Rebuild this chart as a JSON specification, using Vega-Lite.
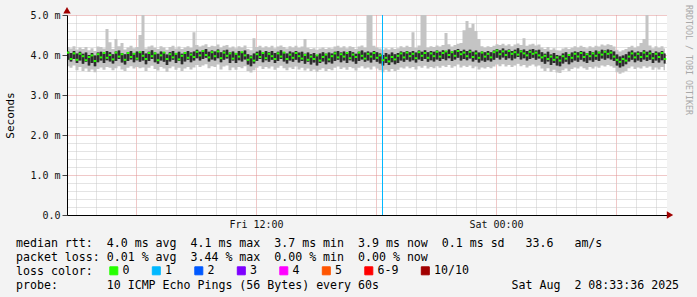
{
"$schema":"https://vega.github.io/schema/vega-lite/v6.json",
"width":600,"height":200,
"autosize":{"type":"none"},
"padding":{"left":67,"top":15,"right":30,"bottom":82},
"background":"#f3f3f3",
"config":{"view":{"fill":"white","stroke":null},"font":"DejaVu Sans Mono"},
"title":{"text":["median rtt:\u00a0\u00a04.0 ms avg\u00a0\u00a04.1 ms max\u00a0\u00a03.7 ms min\u00a0\u00a03.9 ms now\u00a0\u00a00.1 ms sd\u00a0\u00a0\u00a033.6\u00a0\u00a0\u00a0am/s","packet loss: 0.01 % avg\u00a0\u00a03.44 % max\u00a0\u00a00.00 % min\u00a0\u00a00.00 % now","loss color:","probe:\u00a0\u00a0\u00a0\u00a0\u00a0\u00a0\u00a010 ICMP Echo Pings (56 Bytes) every 60s\u00a0\u00a0\u00a0\u00a0\u00a0\u00a0\u00a0\u00a0\u00a0\u00a0\u00a0\u00a0\u00a0\u00a0\u00a0\u00a0\u00a0\u00a0\u00a0Sat Aug\u00a0\u00a02 08:33:36 2025"],"orient":"bottom","anchor":"start","frame":"group","font":"DejaVu Sans Mono","fontSize":11.6,"fontWeight":"normal","color":"#000","lineHeight":14,"offset":5,"dx":-51,"dy":-44},
"datasets":{
"d":[
{"t":2.6,"m":4.06,"a":3.88,"b":4.09,"l":3.72,"h":4.2},
{"t":2.75,"m":3.9,"a":3.84,"b":4.05,"l":3.68,"h":4.16},
{"t":2.9,"m":4.04,"a":3.9,"b":4.1,"l":3.74,"h":4.22},
{"t":3.05,"m":3.88,"a":3.8,"b":4.04,"l":3.62,"h":4.14},
{"t":3.2,"m":4.03,"a":3.86,"b":4.08,"l":3.7,"h":4.19},
{"t":3.35,"m":3.97,"a":3.78,"b":4.03,"l":3.6,"h":4.15},
{"t":3.5,"m":3.87,"a":3.83,"b":4.06,"l":3.66,"h":4.2},
{"t":3.65,"m":3.95,"a":3.74,"b":4.0,"l":3.58,"h":4.12},
{"t":3.8,"m":3.99,"a":3.8,"b":4.05,"l":3.64,"h":4.17},
{"t":3.95,"m":3.85,"a":3.72,"b":3.99,"l":3.57,"h":4.1},
{"t":4.1,"m":4.02,"a":3.82,"b":4.06,"l":3.65,"h":4.21},
{"t":4.25,"m":3.94,"a":3.86,"b":4.08,"l":3.69,"h":4.2},
{"t":4.4,"m":4.05,"a":3.8,"b":4.04,"l":3.63,"h":4.16},
{"t":4.55,"m":3.93,"a":3.87,"b":4.1,"l":3.7,"h":4.65},
{"t":4.7,"m":4.0,"a":3.84,"b":4.07,"l":3.68,"h":4.32},
{"t":4.85,"m":3.89,"a":3.79,"b":4.02,"l":3.62,"h":4.15},
{"t":5.0,"m":4.06,"a":3.85,"b":4.09,"l":3.67,"h":4.4},
{"t":5.15,"m":3.96,"a":3.9,"b":4.11,"l":3.72,"h":4.22},
{"t":5.3,"m":4.02,"a":3.81,"b":4.05,"l":3.64,"h":4.3},
{"t":5.45,"m":3.88,"a":3.76,"b":4.02,"l":3.6,"h":4.14},
{"t":5.6,"m":4.05,"a":3.85,"b":4.07,"l":3.68,"h":4.19},
{"t":5.75,"m":3.95,"a":3.89,"b":4.1,"l":3.72,"h":4.23},
{"t":5.9,"m":4.03,"a":3.82,"b":4.05,"l":3.66,"h":4.17},
{"t":6.05,"m":3.91,"a":3.87,"b":4.09,"l":3.7,"h":4.2},
{"t":6.2,"m":4.07,"a":3.83,"b":4.06,"l":3.67,"h":4.5},
{"t":6.35,"m":3.98,"a":3.86,"b":4.1,"l":3.69,"h":5.0},
{"t":6.5,"m":3.9,"a":3.77,"b":4.04,"l":3.6,"h":4.16},
{"t":6.65,"m":4.05,"a":3.85,"b":4.08,"l":3.68,"h":4.21},
{"t":6.8,"m":3.97,"a":3.9,"b":4.12,"l":3.73,"h":4.24},
{"t":6.95,"m":4.04,"a":3.82,"b":4.06,"l":3.65,"h":4.18},
{"t":7.1,"m":3.87,"a":3.78,"b":4.03,"l":3.61,"h":4.15},
{"t":7.25,"m":3.99,"a":3.86,"b":4.09,"l":3.7,"h":4.22},
{"t":7.4,"m":4.06,"a":3.83,"b":4.07,"l":3.66,"h":4.19},
{"t":7.55,"m":3.9,"a":3.75,"b":4.01,"l":3.58,"h":4.13},
{"t":7.7,"m":4.02,"a":3.84,"b":4.07,"l":3.67,"h":4.2},
{"t":7.85,"m":3.94,"a":3.88,"b":4.1,"l":3.71,"h":4.23},
{"t":8.0,"m":4.03,"a":3.8,"b":4.05,"l":3.63,"h":4.16},
{"t":8.15,"m":3.89,"a":3.85,"b":4.08,"l":3.68,"h":4.21},
{"t":8.3,"m":3.98,"a":3.77,"b":4.03,"l":3.6,"h":4.15},
{"t":8.45,"m":4.05,"a":3.84,"b":4.07,"l":3.66,"h":4.19},
{"t":8.6,"m":3.93,"a":3.88,"b":4.1,"l":3.7,"h":4.22},
{"t":8.75,"m":4.01,"a":3.82,"b":4.06,"l":3.64,"h":4.18},
{"t":8.9,"m":3.95,"a":3.86,"b":4.09,"l":3.69,"h":4.57},
{"t":9.05,"m":4.08,"a":3.92,"b":4.13,"l":3.75,"h":4.25},
{"t":9.2,"m":3.99,"a":3.86,"b":4.08,"l":3.7,"h":4.21},
{"t":9.35,"m":4.1,"a":3.9,"b":4.12,"l":3.74,"h":4.24},
{"t":9.5,"m":4.0,"a":3.93,"b":4.15,"l":3.77,"h":4.27},
{"t":9.65,"m":3.94,"a":3.84,"b":4.08,"l":3.67,"h":4.2},
{"t":9.8,"m":4.07,"a":3.89,"b":4.11,"l":3.72,"h":4.23},
{"t":9.95,"m":3.97,"a":3.86,"b":4.09,"l":3.7,"h":4.22},
{"t":10.1,"m":4.09,"a":3.92,"b":4.14,"l":3.76,"h":4.26},
{"t":10.25,"m":3.92,"a":3.82,"b":4.07,"l":3.64,"h":4.19},
{"t":10.4,"m":4.06,"a":3.88,"b":4.11,"l":3.71,"h":4.23},
{"t":10.55,"m":3.98,"a":3.91,"b":4.13,"l":3.74,"h":4.25},
{"t":10.7,"m":4.04,"a":3.8,"b":4.06,"l":3.62,"h":4.18},
{"t":10.85,"m":3.91,"a":3.86,"b":4.09,"l":3.69,"h":4.21},
{"t":11.0,"m":4.03,"a":3.8,"b":4.05,"l":3.63,"h":4.17},
{"t":11.15,"m":3.96,"a":3.87,"b":4.1,"l":3.7,"h":4.22},
{"t":11.3,"m":4.07,"a":3.84,"b":4.07,"l":3.67,"h":4.19},
{"t":11.45,"m":3.99,"a":3.89,"b":4.11,"l":3.72,"h":4.24},
{"t":11.6,"m":3.88,"a":3.76,"b":4.02,"l":3.6,"h":4.15},
{"t":11.75,"m":3.94,"a":3.72,"b":3.99,"l":3.56,"h":4.12},
{"t":11.9,"m":3.86,"a":3.79,"b":4.04,"l":3.62,"h":4.42},
{"t":12.05,"m":4.02,"a":3.85,"b":4.08,"l":3.68,"h":4.2},
{"t":12.2,"m":3.95,"a":3.9,"b":4.11,"l":3.72,"h":4.23},
{"t":12.35,"m":4.05,"a":3.82,"b":4.06,"l":3.65,"h":4.18},
{"t":12.5,"m":3.92,"a":3.87,"b":4.1,"l":3.7,"h":4.22},
{"t":12.65,"m":4.03,"a":3.83,"b":4.07,"l":3.66,"h":4.19},
{"t":12.8,"m":3.97,"a":3.88,"b":4.1,"l":3.71,"h":4.23},
{"t":12.95,"m":3.9,"a":3.8,"b":4.05,"l":3.63,"h":4.17},
{"t":13.1,"m":4.04,"a":3.85,"b":4.08,"l":3.68,"h":4.21},
{"t":13.25,"m":3.96,"a":3.9,"b":4.12,"l":3.73,"h":4.24},
{"t":13.4,"m":4.06,"a":3.84,"b":4.07,"l":3.67,"h":4.2},
{"t":13.55,"m":3.9,"a":3.79,"b":4.04,"l":3.62,"h":4.16},
{"t":13.7,"m":4.01,"a":3.86,"b":4.09,"l":3.69,"h":4.22},
{"t":13.85,"m":3.93,"a":3.83,"b":4.06,"l":3.65,"h":4.19},
{"t":14.0,"m":4.05,"a":3.88,"b":4.1,"l":3.71,"h":4.23},
{"t":14.15,"m":3.97,"a":3.81,"b":4.06,"l":3.64,"h":4.18},
{"t":14.3,"m":3.91,"a":3.85,"b":4.08,"l":3.68,"h":4.21},
{"t":14.45,"m":4.0,"a":3.78,"b":4.03,"l":3.61,"h":4.4},
{"t":14.6,"m":3.88,"a":3.83,"b":4.06,"l":3.66,"h":4.18},
{"t":14.75,"m":3.96,"a":3.76,"b":4.02,"l":3.6,"h":4.15},
{"t":14.9,"m":3.9,"a":3.81,"b":4.05,"l":3.64,"h":4.17},
{"t":15.05,"m":3.99,"a":3.74,"b":4.0,"l":3.58,"h":4.13},
{"t":15.2,"m":3.86,"a":3.8,"b":4.04,"l":3.63,"h":4.16},
{"t":15.35,"m":3.95,"a":3.84,"b":4.07,"l":3.67,"h":4.19},
{"t":15.5,"m":4.01,"a":3.77,"b":4.03,"l":3.6,"h":4.15},
{"t":15.65,"m":3.89,"a":3.82,"b":4.06,"l":3.65,"h":4.18},
{"t":15.8,"m":3.97,"a":3.79,"b":4.04,"l":3.62,"h":4.16},
{"t":15.95,"m":4.04,"a":3.85,"b":4.08,"l":3.68,"h":4.21},
{"t":16.1,"m":3.94,"a":3.88,"b":4.1,"l":3.71,"h":4.23},
{"t":16.25,"m":4.02,"a":3.82,"b":4.06,"l":3.65,"h":4.18},
{"t":16.4,"m":3.96,"a":3.86,"b":4.09,"l":3.69,"h":4.22},
{"t":16.55,"m":4.05,"a":3.8,"b":4.05,"l":3.63,"h":4.17},
{"t":16.7,"m":3.92,"a":3.87,"b":4.1,"l":3.7,"h":4.22},
{"t":16.85,"m":4.01,"a":3.84,"b":4.07,"l":3.67,"h":4.2},
{"t":17.0,"m":3.95,"a":3.78,"b":4.03,"l":3.61,"h":4.15},
{"t":17.15,"m":4.06,"a":3.85,"b":4.08,"l":3.68,"h":4.21},
{"t":17.3,"m":3.98,"a":3.89,"b":4.11,"l":3.72,"h":4.24},
{"t":17.45,"m":3.91,"a":3.83,"b":4.06,"l":3.66,"h":4.19},
{"t":17.6,"m":4.03,"a":3.86,"b":4.09,"l":3.69,"h":5.0},
{"t":17.75,"m":3.96,"a":3.81,"b":4.06,"l":3.64,"h":5.0},
{"t":17.9,"m":4.05,"a":3.88,"b":4.1,"l":3.71,"h":4.23},
{"t":18.05,"m":3.93,"a":3.83,"b":4.07,"l":3.66,"h":4.19},
{"t":18.2,"m":3.99,"a":3.79,"b":4.04,"l":3.62,"h":4.16},
{"t":18.35,"m":3.87,"a":3.74,"b":4.0,"l":3.57,"h":4.13},
{"t":18.5,"m":3.93,"a":3.8,"b":4.05,"l":3.63,"h":4.17},
{"t":18.65,"m":3.84,"a":3.75,"b":4.01,"l":3.58,"h":4.14},
{"t":18.8,"m":3.95,"a":3.82,"b":4.06,"l":3.65,"h":4.18},
{"t":18.95,"m":3.89,"a":3.77,"b":4.02,"l":3.6,"h":4.15},
{"t":19.1,"m":3.98,"a":3.8,"b":4.05,"l":3.63,"h":4.17},
{"t":19.25,"m":4.04,"a":3.86,"b":4.09,"l":3.69,"h":4.22},
{"t":19.4,"m":3.94,"a":3.83,"b":4.07,"l":3.66,"h":4.19},
{"t":19.55,"m":4.06,"a":3.88,"b":4.1,"l":3.71,"h":4.23},
{"t":19.7,"m":3.97,"a":3.84,"b":4.07,"l":3.67,"h":4.2},
{"t":19.85,"m":4.03,"a":3.87,"b":4.1,"l":3.7,"h":4.57},
{"t":20.0,"m":3.92,"a":3.81,"b":4.06,"l":3.64,"h":4.18},
{"t":20.15,"m":4.07,"a":3.89,"b":4.11,"l":3.72,"h":4.24},
{"t":20.3,"m":3.98,"a":3.85,"b":4.08,"l":3.68,"h":5.0},
{"t":20.45,"m":4.05,"a":3.9,"b":4.12,"l":3.73,"h":5.0},
{"t":20.6,"m":3.93,"a":3.83,"b":4.07,"l":3.66,"h":4.19},
{"t":20.75,"m":4.04,"a":3.87,"b":4.1,"l":3.7,"h":4.22},
{"t":20.9,"m":3.97,"a":3.84,"b":4.08,"l":3.67,"h":4.2},
{"t":21.05,"m":4.08,"a":3.89,"b":4.11,"l":3.72,"h":4.24},
{"t":21.2,"m":3.96,"a":3.85,"b":4.08,"l":3.68,"h":4.21},
{"t":21.35,"m":4.05,"a":3.9,"b":4.12,"l":3.73,"h":4.25},
{"t":21.5,"m":4.09,"a":3.87,"b":4.1,"l":3.7,"h":4.55},
{"t":21.65,"m":4.0,"a":3.92,"b":4.14,"l":3.75,"h":4.27},
{"t":21.8,"m":4.07,"a":3.85,"b":4.09,"l":3.68,"h":4.21},
{"t":21.95,"m":3.98,"a":3.89,"b":4.12,"l":3.72,"h":4.25},
{"t":22.1,"m":4.1,"a":3.93,"b":4.15,"l":3.76,"h":4.28},
{"t":22.25,"m":4.02,"a":3.86,"b":4.1,"l":3.69,"h":4.3},
{"t":22.4,"m":4.06,"a":3.9,"b":4.13,"l":3.73,"h":4.62},
{"t":22.55,"m":3.97,"a":3.87,"b":4.1,"l":3.7,"h":4.85},
{"t":22.7,"m":4.08,"a":3.91,"b":4.13,"l":3.74,"h":4.68},
{"t":22.85,"m":3.95,"a":3.84,"b":4.08,"l":3.67,"h":4.78},
{"t":23.0,"m":4.04,"a":3.88,"b":4.11,"l":3.71,"h":4.6},
{"t":23.15,"m":3.93,"a":3.81,"b":4.06,"l":3.64,"h":4.4},
{"t":23.3,"m":4.06,"a":3.86,"b":4.09,"l":3.69,"h":4.22},
{"t":23.45,"m":3.96,"a":3.83,"b":4.07,"l":3.66,"h":4.19},
{"t":23.6,"m":4.03,"a":3.87,"b":4.1,"l":3.7,"h":4.22},
{"t":23.75,"m":3.94,"a":3.84,"b":4.07,"l":3.67,"h":4.2},
{"t":23.9,"m":4.07,"a":3.88,"b":4.11,"l":3.71,"h":4.23},
{"t":24.05,"m":4.11,"a":3.93,"b":4.15,"l":3.76,"h":4.27},
{"t":24.2,"m":4.02,"a":3.89,"b":4.12,"l":3.72,"h":4.25},
{"t":24.35,"m":4.09,"a":3.94,"b":4.16,"l":3.77,"h":4.28},
{"t":24.5,"m":4.0,"a":3.88,"b":4.11,"l":3.71,"h":4.24},
{"t":24.65,"m":4.1,"a":3.92,"b":4.14,"l":3.75,"h":4.27},
{"t":24.8,"m":4.03,"a":3.87,"b":4.1,"l":3.7,"h":4.22},
{"t":24.95,"m":4.07,"a":3.91,"b":4.13,"l":3.74,"h":4.26},
{"t":25.1,"m":4.01,"a":3.95,"b":4.17,"l":3.78,"h":4.29},
{"t":25.25,"m":4.09,"a":3.89,"b":4.12,"l":3.72,"h":4.25},
{"t":25.4,"m":4.04,"a":3.92,"b":4.14,"l":3.75,"h":4.42},
{"t":25.55,"m":3.99,"a":3.86,"b":4.1,"l":3.69,"h":4.23},
{"t":25.7,"m":4.08,"a":3.9,"b":4.13,"l":3.73,"h":4.26},
{"t":25.85,"m":4.03,"a":3.93,"b":4.15,"l":3.76,"h":4.28},
{"t":26.0,"m":4.06,"a":3.88,"b":4.11,"l":3.71,"h":4.24},
{"t":26.15,"m":3.99,"a":3.91,"b":4.13,"l":3.74,"h":4.26},
{"t":26.3,"m":3.94,"a":3.83,"b":4.07,"l":3.66,"h":4.19},
{"t":26.45,"m":3.98,"a":3.78,"b":4.03,"l":3.6,"h":4.15},
{"t":26.6,"m":3.9,"a":3.84,"b":4.08,"l":3.67,"h":4.2},
{"t":26.75,"m":3.96,"a":3.75,"b":4.01,"l":3.58,"h":4.13},
{"t":26.9,"m":3.88,"a":3.8,"b":4.05,"l":3.63,"h":4.17},
{"t":27.05,"m":3.94,"a":3.74,"b":4.0,"l":3.56,"h":4.12},
{"t":27.2,"m":3.86,"a":3.72,"b":3.98,"l":3.55,"h":4.11},
{"t":27.35,"m":3.97,"a":3.79,"b":4.04,"l":3.62,"h":4.16},
{"t":27.5,"m":3.91,"a":3.83,"b":4.07,"l":3.66,"h":4.19},
{"t":27.65,"m":4.0,"a":3.77,"b":4.02,"l":3.6,"h":4.15},
{"t":27.8,"m":3.93,"a":3.82,"b":4.06,"l":3.65,"h":4.18},
{"t":27.95,"m":4.03,"a":3.86,"b":4.09,"l":3.69,"h":4.22},
{"t":28.1,"m":3.96,"a":3.83,"b":4.07,"l":3.66,"h":4.19},
{"t":28.25,"m":4.05,"a":3.88,"b":4.1,"l":3.71,"h":4.23},
{"t":28.4,"m":3.95,"a":3.84,"b":4.08,"l":3.67,"h":4.2},
{"t":28.55,"m":4.02,"a":3.8,"b":4.05,"l":3.63,"h":4.17},
{"t":28.7,"m":3.97,"a":3.87,"b":4.1,"l":3.7,"h":4.22},
{"t":28.85,"m":4.04,"a":3.83,"b":4.07,"l":3.66,"h":4.19},
{"t":29.0,"m":3.98,"a":3.88,"b":4.11,"l":3.71,"h":4.23},
{"t":29.15,"m":4.06,"a":3.85,"b":4.08,"l":3.68,"h":4.21},
{"t":29.3,"m":4.01,"a":3.91,"b":4.13,"l":3.74,"h":4.26},
{"t":29.45,"m":4.08,"a":3.88,"b":4.11,"l":3.71,"h":4.24},
{"t":29.6,"m":4.03,"a":3.92,"b":4.14,"l":3.75,"h":4.27},
{"t":29.75,"m":4.06,"a":3.89,"b":4.12,"l":3.72,"h":4.25},
{"t":29.9,"m":3.96,"a":3.85,"b":4.09,"l":3.68,"h":4.21},
{"t":30.05,"m":3.88,"a":3.74,"b":4.01,"l":3.57,"h":4.13},
{"t":30.2,"m":3.83,"a":3.69,"b":3.96,"l":3.53,"h":4.09},
{"t":30.35,"m":3.9,"a":3.72,"b":3.99,"l":3.56,"h":4.12},
{"t":30.5,"m":3.86,"a":3.77,"b":4.02,"l":3.6,"h":4.15},
{"t":30.65,"m":3.96,"a":3.84,"b":4.08,"l":3.67,"h":4.2},
{"t":30.8,"m":4.04,"a":3.88,"b":4.11,"l":3.71,"h":4.23},
{"t":30.95,"m":3.94,"a":3.82,"b":4.06,"l":3.65,"h":4.18},
{"t":31.1,"m":4.03,"a":3.86,"b":4.09,"l":3.69,"h":4.22},
{"t":31.25,"m":3.95,"a":3.83,"b":4.07,"l":3.66,"h":4.3},
{"t":31.4,"m":4.06,"a":3.89,"b":4.12,"l":3.72,"h":4.4},
{"t":31.55,"m":3.97,"a":3.85,"b":4.08,"l":3.68,"h":5.0},
{"t":31.7,"m":4.04,"a":3.88,"b":4.11,"l":3.71,"h":4.24},
{"t":31.85,"m":3.92,"a":3.8,"b":4.05,"l":3.63,"h":4.17},
{"t":32.0,"m":4.03,"a":3.86,"b":4.09,"l":3.69,"h":4.22},
{"t":32.15,"m":3.95,"a":3.81,"b":4.06,"l":3.64,"h":4.18},
{"t":32.3,"m":4.05,"a":3.87,"b":4.1,"l":3.7,"h":4.22},
{"t":32.45,"m":3.9,"a":3.79,"b":4.04,"l":3.62,"h":4.16}
],
"loss":[{"t":18.325,"loss":"1"}]
},
"encoding":{
"y":{"type":"quantitative","scale":{"domain":[0,5],"nice":false,"zero":true},
"axis":{"title":"Seconds","titleFont":"DejaVu Sans Mono","titleFontSize":11,"titleFontWeight":"normal","titleColor":"#000","titleX":-57,"titleY":100,"titleBaseline":"middle","titleAngle":-90,
"values":[0,0.2,0.4,0.6,0.8,1,1.2,1.4,1.6,1.8,2,2.2,2.4,2.6,2.8,3,3.2,3.4,3.6,3.8,4,4.2,4.4,4.6,4.8,5],
"labelExpr":"datum.value % 1 === 0 ? (datum.value === 0 ? '0.0' : format(datum.value, '.1f') + ' m') : ''",
"labelOverlap":false,"labelBound":false,"labelFlush":false,"labelFont":"DejaVu Sans Mono","labelFontSize":10,"labelColor":"#111","labelPadding":2,
"tickSize":5,"tickColor":{"condition":{"test":"datum.value % 1 === 0","value":"#444"},"value":"transparent"},
"domainColor":"#000","domainWidth":1,
"grid":true,"gridDash":[1,1],"gridWidth":1,"gridOpacity":1,
"gridColor":{"condition":{"test":"datum.value % 1 === 0","value":"#e09090"},"value":"#c8c8c8"}}},
"x":{"type":"quantitative","scale":{"domain":[2.55,32.55],"nice":false,"zero":false},
"axis":{"title":null,"values":[3,4,5,6,7,8,9,10,11,12,13,14,15,16,17,18,19,20,21,22,23,24,25,26,27,28,29,30,31,32],
"labelExpr":"datum.value === 12 ? 'Fri 12:00' : datum.value === 24 ? 'Sat 00:00' : ''",
"labelOverlap":false,"labelBound":false,"labelFlush":false,"labelFont":"DejaVu Sans Mono","labelFontSize":10,"labelColor":"#111","labelPadding":4,
"ticks":false,"domainColor":"#000","domainWidth":1,
"grid":true,"gridDash":[1,1],"gridWidth":1,"gridOpacity":1,
"gridColor":{"condition":{"test":"datum.value % 6 === 0","value":"#e09090"},"value":"#c8c8c8"}}}
},
"layer":[
{"data":{"name":"d"},"mark":{"type":"area","interpolate":"step","color":"#c4c4c4","clip":true},
"encoding":{"x":{"field":"t"},"y":{"field":"l"},"y2":{"field":"h"}}},
{"data":{"name":"d"},"mark":{"type":"area","interpolate":"step","color":"#5a5a5a","clip":true},
"encoding":{"x":{"field":"t"},"y":{"field":"a"},"y2":{"field":"b"}}},
{"data":{"name":"d"},"mark":{"type":"rule","color":"#111111","strokeWidth":1.2,"clip":true},
"encoding":{"x":{"field":"t"},"y":{"field":"a"},"y2":{"field":"b"}}},
{"data":{"name":"loss"},"mark":{"type":"rule","strokeWidth":1},
"encoding":{"x":{"field":"t"},"y":null,"color":{"field":"loss","type":"nominal",
"scale":{"domain":["0","1","2","3","4","5","6-9","10/10"],"range":["#26ff00","#00b8ff","#0059ff","#7e00ff","#ff00ff","#ff5500","#ff0000","#a10000"]},
"legend":{"title":null,"orient":"none","legendX":41,"legendY":250,"direction":"horizontal","columns":8,"gridAlign":"none","columnPadding":19.5,"padding":0,
"symbolType":"square","symbolSize":64,"symbolStrokeColor":"#000","symbolStrokeWidth":1,"symbolOpacity":1,
"labelFont":"DejaVu Sans Mono","labelFontSize":11.6,"labelColor":"#000","labelOffset":3,
"encode":{"symbols":{"update":{"fill":{"scale":"color","field":"value"},"stroke":{"value":"#000"},"strokeWidth":{"value":1},"shape":{"value":"square"},"size":{"value":64},"opacity":{"value":1}}}}}}}},
{"data":{"name":"d"},"mark":{"type":"tick","orient":"horizontal","color":"#26ff00","size":2.6,"thickness":2,"opacity":1,"clip":true},
"encoding":{"x":{"field":"t"},"y":{"field":"m"}}},
{"data":{"values":[{}]},"mark":{"type":"point","shape":"triangle-up","filled":true,"color":"#a00000","size":55,"opacity":1},
"encoding":{"x":{"datum":2.55},"y":{"datum":5.12}}},
{"data":{"values":[{}]},"mark":{"type":"point","shape":"triangle-right","filled":true,"color":"#a00000","size":55,"opacity":1},
"encoding":{"x":{"datum":32.7},"y":{"datum":0}}},
{"data":{"values":[{"txt":"RRDTOOL / TOBI OETIKER"}]},"mark":{"type":"text","angle":90,"align":"left","baseline":"middle","font":"DejaVu Sans Mono","fontSize":8.3,"color":"#a8a8a8"},
"encoding":{"x":{"datum":33.6},"y":{"datum":5.25},"text":{"field":"txt"}}}
]
}
